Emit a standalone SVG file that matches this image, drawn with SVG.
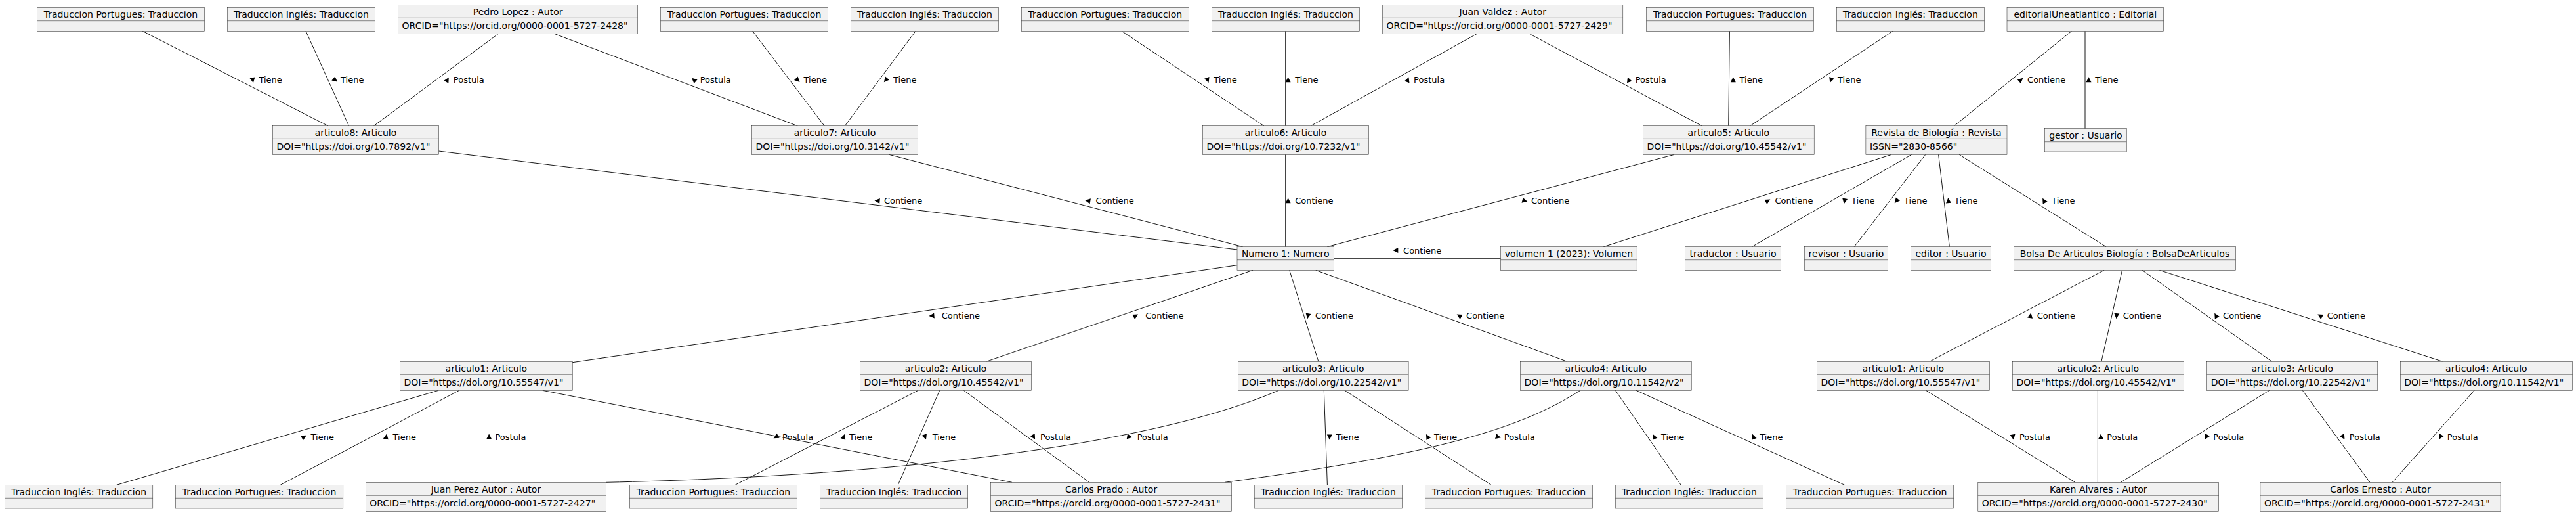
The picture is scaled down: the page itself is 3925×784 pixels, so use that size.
<svg xmlns="http://www.w3.org/2000/svg" xmlns:xlink="http://www.w3.org/1999/xlink" width="3925" height="784" viewBox="0 0 3925 784">
<style>
.b{fill:#F1F1F1;stroke:#181818;stroke-width:0.5}
.d{stroke:#181818;stroke-width:0.5}
.t{font-family:"DejaVu Sans","Liberation Sans",sans-serif;font-size:14px;fill:#000}
.m{text-anchor:middle}
.l{font-family:"DejaVu Sans","Liberation Sans",sans-serif;font-size:13px;fill:#000}
.c{fill:none;stroke:#181818;stroke-width:1}
</style>
<defs><polygon id="tri" points="4.5,0 -3.5,-4 -3.5,4" fill="#000"/></defs>
<rect width="3925" height="784" fill="#fff"/>
<g id="connectors">
<line class="c" x1="217.2" y1="47.3" x2="500" y2="191.7"/>
<line class="c" x1="466" y1="47.3" x2="531.6" y2="191.7"/>
<line class="c" x1="759.4" y1="51.3" x2="569.5" y2="191.7"/>
<line class="c" x1="844.5" y1="51.3" x2="1215.3" y2="191.7"/>
<line class="c" x1="1146.7" y1="47.3" x2="1256.1" y2="191.7"/>
<line class="c" x1="1395.1" y1="47.3" x2="1287.3" y2="191.7"/>
<line class="c" x1="668.5" y1="230" x2="1885" y2="380"/>
<line class="c" x1="1354.7" y1="235.3" x2="1893.5" y2="375.7"/>
<line class="c" x1="1709.1" y1="47.3" x2="1925.9" y2="191.7"/>
<line class="c" x1="1958.7" y1="47.3" x2="1958.7" y2="191.7"/>
<line class="c" x1="1958.7" y1="235.3" x2="1958.7" y2="375.7"/>
<line class="c" x1="2250.5" y1="51.3" x2="1997.1" y2="191.7"/>
<line class="c" x1="2330.1" y1="51.3" x2="2593.2" y2="191.7"/>
<line class="c" x1="2551.1" y1="235.3" x2="2022.4" y2="375.7"/>
<line class="c" x1="2635.4" y1="47.3" x2="2633.7" y2="191.7"/>
<line class="c" x1="2884.1" y1="47.3" x2="2666.5" y2="191.7"/>
<line class="c" x1="3156.5" y1="47.3" x2="2977.6" y2="191.7"/>
<line class="c" x1="3177" y1="47.3" x2="3177" y2="195.7"/>
<line class="c" x1="2882" y1="235.3" x2="2443.3" y2="375.7"/>
<line class="c" x1="2912.7" y1="235.3" x2="2669.4" y2="375.7"/>
<line class="c" x1="2933.8" y1="235.3" x2="2825.2" y2="375.7"/>
<line class="c" x1="2953.6" y1="235.3" x2="2970.4" y2="375.7"/>
<line class="c" x1="2985.1" y1="235.3" x2="3209.1" y2="375.7"/>
<line class="c" x1="2032.5" y1="393.3" x2="2286.7" y2="393.3"/>
<line class="c" x1="1885" y1="403.7" x2="872.2" y2="551.7"/>
<line class="c" x1="1909.1" y1="411.3" x2="1502.9" y2="550.3"/>
<line class="c" x1="1964.7" y1="411.3" x2="2008.9" y2="550.3"/>
<line class="c" x1="2004.7" y1="411.3" x2="2387.8" y2="550.3"/>
<line class="c" x1="3206.1" y1="411.3" x2="2940.1" y2="550.3"/>
<line class="c" x1="3233.5" y1="411.3" x2="3201.9" y2="550.3"/>
<line class="c" x1="3264" y1="411.3" x2="3461.6" y2="550.3"/>
<line class="c" x1="3290.3" y1="411.3" x2="3721.7" y2="550.3"/>
<line class="c" x1="668.1" y1="594.3" x2="177.6" y2="738.3"/>
<line class="c" x1="699.7" y1="594.3" x2="427.2" y2="738.3"/>
<line class="c" x1="740.5" y1="594.3" x2="740.5" y2="734.3"/>
<line class="c" x1="826.8" y1="594.3" x2="1542" y2="734.3"/>
<path class="c" d="M923.6,734.3 C1350,725 1750,680 1948.2,594.3"/>
<line class="c" x1="1398.9" y1="594.3" x2="1120.2" y2="738.3"/>
<line class="c" x1="1431.7" y1="594.3" x2="1368.2" y2="738.3"/>
<line class="c" x1="1468.4" y1="594.3" x2="1659.9" y2="734.3"/>
<path class="c" d="M2408,594.3 C2320,650 2200,690 1866.1,734.3"/>
<line class="c" x1="2017.3" y1="594.3" x2="2022.4" y2="738.3"/>
<line class="c" x1="2048.9" y1="594.3" x2="2272" y2="738.3"/>
<line class="c" x1="2461.4" y1="594.3" x2="2561.2" y2="738.3"/>
<line class="c" x1="2493" y1="594.3" x2="2810.5" y2="738.3"/>
<line class="c" x1="2934.6" y1="594.3" x2="3161.9" y2="734.3"/>
<line class="c" x1="3196.4" y1="594.3" x2="3196.4" y2="734.3"/>
<line class="c" x1="3457.8" y1="594.3" x2="3231.4" y2="734.3"/>
<line class="c" x1="3508.3" y1="594.3" x2="3611" y2="734.3"/>
<line class="c" x1="3770.1" y1="594.3" x2="3645.1" y2="734.3"/>
</g>
<g id="labels">
<use xlink:href="#tri" transform="translate(385.1,121.7) rotate(80)"/><text class="l" x="394.4" y="126.4">Tiene</text>
<use xlink:href="#tri" transform="translate(510.6,121.7) rotate(40)"/><text class="l" x="519" y="126.4">Tiene</text>
<use xlink:href="#tri" transform="translate(681.6,121.7) rotate(-60)"/><text class="l" x="690.8" y="126.4">Postula</text>
<use xlink:href="#tri" transform="translate(1057.4,121.7) rotate(-140)"/><text class="l" x="1066.7" y="126.4">Postula</text>
<use xlink:href="#tri" transform="translate(1215.3,121.7) rotate(45)"/><text class="l" x="1224.5" y="126.4">Tiene</text>
<use xlink:href="#tri" transform="translate(1349.7,121.7) rotate(130)"/><text class="l" x="1361" y="126.4">Tiene</text>
<use xlink:href="#tri" transform="translate(1840,121.7) rotate(70)"/><text class="l" x="1849.3" y="126.4">Tiene</text>
<use xlink:href="#tri" transform="translate(1962.6,121.7) rotate(-90)"/><text class="l" x="1973.2" y="126.4">Tiene</text>
<use xlink:href="#tri" transform="translate(2144.9,121.7) rotate(-70)"/><text class="l" x="2154.1" y="126.4">Postula</text>
<use xlink:href="#tri" transform="translate(2481.6,121.7) rotate(-110)"/><text class="l" x="2491.7" y="126.4">Postula</text>
<use xlink:href="#tri" transform="translate(2640.8,121.7) rotate(-90)"/><text class="l" x="2650.5" y="126.4">Tiene</text>
<use xlink:href="#tri" transform="translate(2789.8,121.7) rotate(110)"/><text class="l" x="2800" y="126.4">Tiene</text>
<use xlink:href="#tri" transform="translate(3079,121.7) rotate(-40)"/><text class="l" x="3089.1" y="126.4">Contiene</text>
<use xlink:href="#tri" transform="translate(3182.5,121.7) rotate(-90)"/><text class="l" x="3192.2" y="126.4">Tiene</text>
<use xlink:href="#tri" transform="translate(1337,305.7) rotate(185)"/><text class="l" x="1347" y="310.4">Contiene</text>
<use xlink:href="#tri" transform="translate(1657.8,305.7) rotate(190)"/><text class="l" x="1669.6" y="310.4">Contiene</text>
<use xlink:href="#tri" transform="translate(1962.6,305.7) rotate(-90)"/><text class="l" x="1973.2" y="310.4">Contiene</text>
<use xlink:href="#tri" transform="translate(2322.9,305.7) rotate(15)"/><text class="l" x="2333" y="310.4">Contiene</text>
<use xlink:href="#tri" transform="translate(2693.4,305.7) rotate(-30)"/><text class="l" x="2704.4" y="310.4">Contiene</text>
<use xlink:href="#tri" transform="translate(2810.5,305.7) rotate(100)"/><text class="l" x="2821" y="310.4">Tiene</text>
<use xlink:href="#tri" transform="translate(2889.6,305.7) rotate(130)"/><text class="l" x="2901" y="310.4">Tiene</text>
<use xlink:href="#tri" transform="translate(2968.7,305.7) rotate(-95)"/><text class="l" x="2978" y="310.4">Tiene</text>
<use xlink:href="#tri" transform="translate(3114.4,305.7) rotate(-120)"/><text class="l" x="3126.1" y="310.4">Tiene</text>
<use xlink:href="#tri" transform="translate(2126.8,381) rotate(180)"/><text class="l" x="2138.1" y="385.7">Contiene</text>
<use xlink:href="#tri" transform="translate(1420,480.7) rotate(175)"/><text class="l" x="1434.7" y="485.4">Contiene</text>
<use xlink:href="#tri" transform="translate(1730.2,480.7) rotate(-30)"/><text class="l" x="1745.3" y="485.4">Contiene</text>
<use xlink:href="#tri" transform="translate(1992.9,480.7) rotate(100)"/><text class="l" x="2003.9" y="485.4">Contiene</text>
<use xlink:href="#tri" transform="translate(2223.6,480.7) rotate(-150)"/><text class="l" x="2234.1" y="485.4">Contiene</text>
<use xlink:href="#tri" transform="translate(3093.7,480.7) rotate(-80)"/><text class="l" x="3103.8" y="485.4">Contiene</text>
<use xlink:href="#tri" transform="translate(3225,480.7) rotate(95)"/><text class="l" x="3234.7" y="485.4">Contiene</text>
<use xlink:href="#tri" transform="translate(3376.5,480.7) rotate(-120)"/><text class="l" x="3387.1" y="485.4">Contiene</text>
<use xlink:href="#tri" transform="translate(3535.2,480.7) rotate(-150)"/><text class="l" x="3545.7" y="485.4">Contiene</text>
<use xlink:href="#tri" transform="translate(463,665) rotate(-30)"/><text class="l" x="473.5" y="669.7">Tiene</text>
<use xlink:href="#tri" transform="translate(588.4,665) rotate(-80)"/><text class="l" x="598.5" y="669.7">Tiene</text>
<use xlink:href="#tri" transform="translate(745.1,665) rotate(-90)"/><text class="l" x="754.4" y="669.7">Postula</text>
<use xlink:href="#tri" transform="translate(1182.5,665) rotate(150)"/><text class="l" x="1192.1" y="669.7">Postula</text>
<use xlink:href="#tri" transform="translate(1285.6,665) rotate(-70)"/><text class="l" x="1294" y="669.7">Tiene</text>
<use xlink:href="#tri" transform="translate(1409.4,665) rotate(70)"/><text class="l" x="1420.8" y="669.7">Tiene</text>
<use xlink:href="#tri" transform="translate(1574.9,665) rotate(60)"/><text class="l" x="1585" y="669.7">Postula</text>
<use xlink:href="#tri" transform="translate(1720.9,665) rotate(10)"/><text class="l" x="1732.7" y="669.7">Postula</text>
<use xlink:href="#tri" transform="translate(2025.8,665) rotate(90)"/><text class="l" x="2035.4" y="669.7">Tiene</text>
<use xlink:href="#tri" transform="translate(2175.2,665) rotate(-120)"/><text class="l" x="2184.9" y="669.7">Tiene</text>
<use xlink:href="#tri" transform="translate(2282.5,665) rotate(15)"/><text class="l" x="2291.8" y="669.7">Postula</text>
<use xlink:href="#tri" transform="translate(2520.3,665) rotate(-115)"/><text class="l" x="2530.9" y="669.7">Tiene</text>
<use xlink:href="#tri" transform="translate(2671.6,665) rotate(-110)"/><text class="l" x="2681.2" y="669.7">Tiene</text>
<use xlink:href="#tri" transform="translate(3067.2,665) rotate(80)"/><text class="l" x="3076.9" y="669.7">Postula</text>
<use xlink:href="#tri" transform="translate(3201,665) rotate(-90)"/><text class="l" x="3210.3" y="669.7">Postula</text>
<use xlink:href="#tri" transform="translate(3361.8,665) rotate(120)"/><text class="l" x="3372.3" y="669.7">Postula</text>
<use xlink:href="#tri" transform="translate(3570.2,665) rotate(60)"/><text class="l" x="3579.8" y="669.7">Postula</text>
<use xlink:href="#tri" transform="translate(3718.3,665) rotate(120)"/><text class="l" x="3728.8" y="669.7">Postula</text>
</g>
<g id="tp1"><rect class="b" x="56.4" y="11.3" width="255" height="36"/><line class="d" x1="56.4" y1="31.7" x2="311.4" y2="31.7"/><text class="t m" x="183.9" y="26.6">Traduccion Portugues: Traduccion</text></g>
<g id="ti1"><rect class="b" x="346.4" y="11.3" width="225.2" height="36"/><line class="d" x1="346.4" y1="31.7" x2="571.6" y2="31.7"/><text class="t m" x="459" y="26.6">Traduccion Inglés: Traduccion</text></g>
<g id="tp2"><rect class="b" x="1006.5" y="11.3" width="255.1" height="36"/><line class="d" x1="1006.5" y1="31.7" x2="1261.6" y2="31.7"/><text class="t m" x="1134.05" y="26.6">Traduccion Portugues: Traduccion</text></g>
<g id="ti2"><rect class="b" x="1296.5" y="11.3" width="224.9" height="36"/><line class="d" x1="1296.5" y1="31.7" x2="1521.4" y2="31.7"/><text class="t m" x="1408.95" y="26.6">Traduccion Inglés: Traduccion</text></g>
<g id="tp3"><rect class="b" x="1556.3" y="11.3" width="255.1" height="36"/><line class="d" x1="1556.3" y1="31.7" x2="1811.4" y2="31.7"/><text class="t m" x="1683.85" y="26.6">Traduccion Portugues: Traduccion</text></g>
<g id="ti3"><rect class="b" x="1846.4" y="11.3" width="225.2" height="36"/><line class="d" x1="1846.4" y1="31.7" x2="2071.6" y2="31.7"/><text class="t m" x="1959" y="26.6">Traduccion Inglés: Traduccion</text></g>
<g id="tp4"><rect class="b" x="2508.6" y="11.3" width="254.7" height="36"/><line class="d" x1="2508.6" y1="31.7" x2="2763.3" y2="31.7"/><text class="t m" x="2635.95" y="26.6">Traduccion Portugues: Traduccion</text></g>
<g id="ti4"><rect class="b" x="2798.3" y="11.3" width="225.1" height="36"/><line class="d" x1="2798.3" y1="31.7" x2="3023.4" y2="31.7"/><text class="t m" x="2910.85" y="26.6">Traduccion Inglés: Traduccion</text></g>
<g id="editorial"><rect class="b" x="3058" y="11.3" width="238.6" height="36"/><line class="d" x1="3058" y1="31.7" x2="3296.6" y2="31.7"/><text class="t m" x="3177.3" y="26.6">editorialUneatlantico : Editorial</text></g>
<g id="pedro"><rect class="b" x="606.6" y="7.3" width="365" height="44"/><line class="d" x1="606.6" y1="27.3" x2="971.6" y2="27.3"/><text class="t m" x="789.1" y="22.6">Pedro Lopez : Autor</text><text class="t" x="612.6" y="44">ORCID="https://orcid.org/0000-0001-5727-2428"</text></g>
<g id="juanValdez"><rect class="b" x="2106.6" y="7.3" width="366.2" height="44"/><line class="d" x1="2106.6" y1="27.3" x2="2472.8" y2="27.3"/><text class="t m" x="2289.7" y="22.6">Juan Valdez : Autor</text><text class="t" x="2112.6" y="44">ORCID="https://orcid.org/0000-0001-5727-2429"</text></g>
<g id="a8"><rect class="b" x="415.4" y="191.7" width="253.1" height="43.6"/><line class="d" x1="415.4" y1="211.3" x2="668.5" y2="211.3"/><text class="t m" x="541.95" y="207">articulo8: Articulo</text><text class="t" x="421.4" y="228">DOI="https://doi.org/10.7892/v1"</text></g>
<g id="a7"><rect class="b" x="1145.4" y="191.7" width="253.1" height="43.6"/><line class="d" x1="1145.4" y1="211.3" x2="1398.5" y2="211.3"/><text class="t m" x="1271.95" y="207">articulo7: Articulo</text><text class="t" x="1151.4" y="228">DOI="https://doi.org/10.3142/v1"</text></g>
<g id="a6"><rect class="b" x="1832.5" y="191.7" width="253" height="43.6"/><line class="d" x1="1832.5" y1="211.3" x2="2085.5" y2="211.3"/><text class="t m" x="1959" y="207">articulo6: Articulo</text><text class="t" x="1838.5" y="228">DOI="https://doi.org/10.7232/v1"</text></g>
<g id="a5"><rect class="b" x="2503.5" y="191.7" width="260.7" height="43.6"/><line class="d" x1="2503.5" y1="211.3" x2="2764.2" y2="211.3"/><text class="t m" x="2633.85" y="207">articulo5: Articulo</text><text class="t" x="2509.5" y="228">DOI="https://doi.org/10.45542/v1"</text></g>
<g id="revista"><rect class="b" x="2842.9" y="191.7" width="215.1" height="43.6"/><line class="d" x1="2842.9" y1="211.3" x2="3058" y2="211.3"/><text class="t m" x="2950.45" y="207">Revista de Biología : Revista</text><text class="t" x="2848.9" y="228">ISSN="2830-8566"</text></g>
<g id="gestor"><rect class="b" x="3115.6" y="195.7" width="124.6" height="35.3"/><line class="d" x1="3115.6" y1="215.7" x2="3240.2" y2="215.7"/><text class="t m" x="3177.9" y="211">gestor : Usuario</text></g>
<g id="numero"><rect class="b" x="1885" y="375.7" width="147.5" height="35.6"/><line class="d" x1="1885" y1="395.7" x2="2032.5" y2="395.7"/><text class="t m" x="1958.75" y="391">Numero 1: Numero</text></g>
<g id="volumen"><rect class="b" x="2286.7" y="375.7" width="207.5" height="35.6"/><line class="d" x1="2286.7" y1="395.7" x2="2494.2" y2="395.7"/><text class="t m" x="2390.45" y="391">volumen 1 (2023): Volumen</text></g>
<g id="traductor"><rect class="b" x="2567.5" y="375.7" width="146.1" height="35.6"/><line class="d" x1="2567.5" y1="395.7" x2="2713.6" y2="395.7"/><text class="t m" x="2640.55" y="391">traductor : Usuario</text></g>
<g id="revisor"><rect class="b" x="2749.4" y="375.7" width="127.1" height="35.6"/><line class="d" x1="2749.4" y1="395.7" x2="2876.5" y2="395.7"/><text class="t m" x="2812.95" y="391">revisor : Usuario</text></g>
<g id="editor"><rect class="b" x="2911.5" y="375.7" width="122" height="35.6"/><line class="d" x1="2911.5" y1="395.7" x2="3033.5" y2="395.7"/><text class="t m" x="2972.5" y="391">editor : Usuario</text></g>
<g id="bolsa"><rect class="b" x="3068.5" y="375.7" width="337.9" height="35.6"/><line class="d" x1="3068.5" y1="395.7" x2="3406.4" y2="395.7"/><text class="t m" x="3237.45" y="391">Bolsa De Articulos Biología : BolsaDeArticulos</text></g>
<g id="a1"><rect class="b" x="609.5" y="550.3" width="262.7" height="44"/><line class="d" x1="609.5" y1="570.3" x2="872.2" y2="570.3"/><text class="t m" x="740.85" y="565.6">articulo1: Articulo</text><text class="t" x="615.5" y="587">DOI="https://doi.org/10.55547/v1"</text></g>
<g id="a2"><rect class="b" x="1310.5" y="550.3" width="261" height="44"/><line class="d" x1="1310.5" y1="570.3" x2="1571.5" y2="570.3"/><text class="t m" x="1441" y="565.6">articulo2: Articulo</text><text class="t" x="1316.5" y="587">DOI="https://doi.org/10.45542/v1"</text></g>
<g id="a3"><rect class="b" x="1886.3" y="550.3" width="259.8" height="44"/><line class="d" x1="1886.3" y1="570.3" x2="2146.1" y2="570.3"/><text class="t m" x="2016.2" y="565.6">articulo3: Articulo</text><text class="t" x="1892.3" y="587">DOI="https://doi.org/10.22542/v1"</text></g>
<g id="a4"><rect class="b" x="2316.6" y="550.3" width="260.6" height="44"/><line class="d" x1="2316.6" y1="570.3" x2="2577.2" y2="570.3"/><text class="t m" x="2446.9" y="565.6">articulo4: Articulo</text><text class="t" x="2322.6" y="587">DOI="https://doi.org/10.11542/v2"</text></g>
<g id="ba1"><rect class="b" x="2768.4" y="550.3" width="263" height="44"/><line class="d" x1="2768.4" y1="570.3" x2="3031.4" y2="570.3"/><text class="t m" x="2899.9" y="565.6">articulo1: Articulo</text><text class="t" x="2774.4" y="587">DOI="https://doi.org/10.55547/v1"</text></g>
<g id="ba2"><rect class="b" x="3066.4" y="550.3" width="260.9" height="44"/><line class="d" x1="3066.4" y1="570.3" x2="3327.3" y2="570.3"/><text class="t m" x="3196.85" y="565.6">articulo2: Articulo</text><text class="t" x="3072.4" y="587">DOI="https://doi.org/10.45542/v1"</text></g>
<g id="ba3"><rect class="b" x="3362.7" y="550.3" width="260.1" height="44"/><line class="d" x1="3362.7" y1="570.3" x2="3622.8" y2="570.3"/><text class="t m" x="3492.75" y="565.6">articulo3: Articulo</text><text class="t" x="3368.7" y="587">DOI="https://doi.org/10.22542/v1"</text></g>
<g id="ba4"><rect class="b" x="3657.3" y="550.3" width="262.2" height="44"/><line class="d" x1="3657.3" y1="570.3" x2="3919.5" y2="570.3"/><text class="t m" x="3788.4" y="565.6">articulo4: Articulo</text><text class="t" x="3663.3" y="587">DOI="https://doi.org/10.11542/v1"</text></g>
<g id="ti5"><rect class="b" x="7.6" y="738.3" width="225.2" height="35.7"/><line class="d" x1="7.6" y1="758.3" x2="232.8" y2="758.3"/><text class="t m" x="120.2" y="753.6">Traduccion Inglés: Traduccion</text></g>
<g id="tp5"><rect class="b" x="267.3" y="738.3" width="255.5" height="35.7"/><line class="d" x1="267.3" y1="758.3" x2="522.8" y2="758.3"/><text class="t m" x="395.05" y="753.6">Traduccion Portugues: Traduccion</text></g>
<g id="tp6"><rect class="b" x="959.4" y="738.3" width="255" height="35.7"/><line class="d" x1="959.4" y1="758.3" x2="1214.4" y2="758.3"/><text class="t m" x="1086.9" y="753.6">Traduccion Portugues: Traduccion</text></g>
<g id="ti6"><rect class="b" x="1249.4" y="738.3" width="225.3" height="35.7"/><line class="d" x1="1249.4" y1="758.3" x2="1474.7" y2="758.3"/><text class="t m" x="1362.05" y="753.6">Traduccion Inglés: Traduccion</text></g>
<g id="ti7"><rect class="b" x="1911.2" y="738.3" width="225.3" height="35.7"/><line class="d" x1="1911.2" y1="758.3" x2="2136.5" y2="758.3"/><text class="t m" x="2023.85" y="753.6">Traduccion Inglés: Traduccion</text></g>
<g id="tp7"><rect class="b" x="2171.4" y="738.3" width="255.1" height="35.7"/><line class="d" x1="2171.4" y1="758.3" x2="2426.5" y2="758.3"/><text class="t m" x="2298.95" y="753.6">Traduccion Portugues: Traduccion</text></g>
<g id="ti8"><rect class="b" x="2461.4" y="738.3" width="224.9" height="35.7"/><line class="d" x1="2461.4" y1="758.3" x2="2686.3" y2="758.3"/><text class="t m" x="2573.85" y="753.6">Traduccion Inglés: Traduccion</text></g>
<g id="tp8"><rect class="b" x="2721.6" y="738.3" width="255.1" height="35.7"/><line class="d" x1="2721.6" y1="758.3" x2="2976.7" y2="758.3"/><text class="t m" x="2849.15" y="753.6">Traduccion Portugues: Traduccion</text></g>
<g id="juanPerez"><rect class="b" x="557.3" y="734.3" width="366.3" height="44"/><line class="d" x1="557.3" y1="754.3" x2="923.6" y2="754.3"/><text class="t m" x="740.45" y="749.6">Juan Perez Autor : Autor</text><text class="t" x="563.3" y="771">ORCID="https://orcid.org/0000-0001-5727-2427"</text></g>
<g id="carlosPrado"><rect class="b" x="1509.6" y="734.3" width="367" height="44"/><line class="d" x1="1509.6" y1="754.3" x2="1876.6" y2="754.3"/><text class="t m" x="1693.1" y="749.6">Carlos Prado : Autor</text><text class="t" x="1515.6" y="771">ORCID="https://orcid.org/0000-0001-5727-2431"</text></g>
<g id="karen"><rect class="b" x="3013.8" y="734.3" width="366.9" height="44"/><line class="d" x1="3013.8" y1="754.3" x2="3380.7" y2="754.3"/><text class="t m" x="3197.25" y="749.6">Karen Alvares : Autor</text><text class="t" x="3019.8" y="771">ORCID="https://orcid.org/0000-0001-5727-2430"</text></g>
<g id="carlosErnesto"><rect class="b" x="3443.9" y="734.3" width="366.2" height="44"/><line class="d" x1="3443.9" y1="754.3" x2="3810.1" y2="754.3"/><text class="t m" x="3627" y="749.6">Carlos Ernesto : Autor</text><text class="t" x="3449.9" y="771">ORCID="https://orcid.org/0000-0001-5727-2431"</text></g>
</svg>
